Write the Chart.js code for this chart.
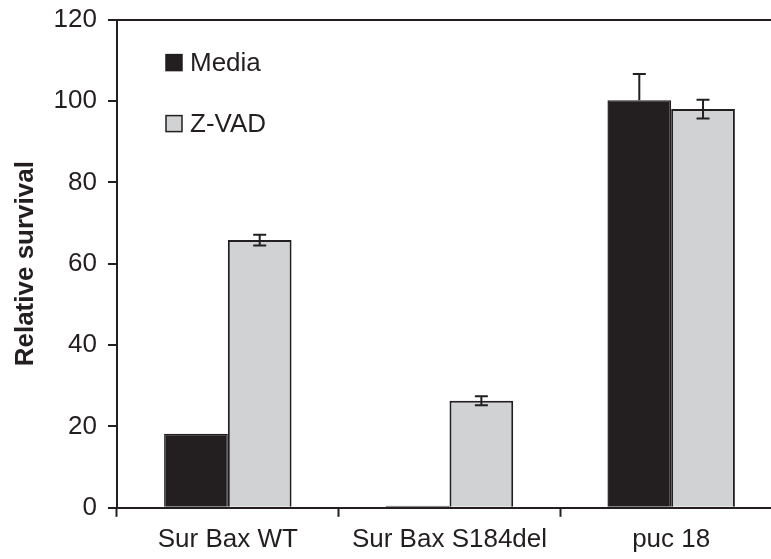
<!DOCTYPE html>
<html>
<head>
<meta charset="utf-8">
<script src="https://cdn.jsdelivr.net/npm/chart.js@4"></script>
<style>
  html, body { margin: 0; padding: 0; background: #fff; overflow: hidden; }
  #wrap { width: 782px; height: 566px; margin-top: -7px; }
</style>
</head>
<body>
<div id="wrap"><canvas id="myChart"></canvas></div>
<script>
// data
var categories = ['Sur Bax WT', 'Sur Bax S184del', 'puc 18'];
var mediaValues = [18.2, 0.5, 100.2];
var mediaErrors = [0, 0, 6.4];
var zvadValues = [65.8, 26.3, 98.0];
var zvadErrors = [1.3, 1.1, 2.3];
var yTicks = [0, 20, 40, 60, 80, 100, 120];

var ink = '#231f20';
var mediaColor = '#231f20';
var zvadColor = '#d1d2d4';
var fontFamily = '"Liberation Sans", Arial, sans-serif';

// draws the error bars from each dataset's errors array
var errorBars = {
  id: 'errorBars',
  afterDatasetsDraw: function(chart) {
    var c = chart.ctx;
    var y = chart.scales.y;
    c.save();
    c.strokeStyle = ink;
    c.lineWidth = 2;
    chart.data.datasets.forEach(function(ds, i) {
      var meta = chart.getDatasetMeta(i);
      meta.data.forEach(function(bar, j) {
        var err = ds.errors[j];
        if (!err) return;
        var v = ds.data[j];
        var x = bar.x;
        var top = y.getPixelForValue(v + err);
        var bottom = y.getPixelForValue(i === 0 ? v : v - err);
        c.beginPath();
        c.moveTo(x, top);
        c.lineTo(x, bottom);
        c.moveTo(x - 6.5, top);
        c.lineTo(x + 6.5, top);
        if (i !== 0) {
          c.moveTo(x - 6.5, bottom);
          c.lineTo(x + 6.5, bottom);
        }
        c.stroke();
      });
    });
    c.restore();
  }
};

// legend inside the plot, top left
var insideLegend = {
  id: 'insideLegend',
  afterDraw: function(chart) {
    var c = chart.ctx;
    var a = chart.chartArea;
    c.save();
    c.font = '26px ' + fontFamily;
    c.textBaseline = 'middle';
    chart.data.datasets.forEach(function(ds, i) {
      var bx = a.left + 49;
      var by = a.top + 35 + i * 61;
      c.fillStyle = ds.backgroundColor;
      c.fillRect(bx, by, 16, 16);
      c.strokeStyle = ink;
      c.lineWidth = 1.5;
      c.strokeRect(bx, by, 16, 16);
      c.fillStyle = ink;
      c.fillText(ds.label, bx + 24, by + 9);
    });
    c.restore();
  }
};

var ctx = document.getElementById('myChart').getContext('2d');

var myChart = new Chart(ctx, {
  type: 'bar',
  data: {
    labels: categories,
    datasets: [{
      label: 'Media',
      data: mediaValues,
      errors: mediaErrors,
      backgroundColor: mediaColor,
      borderColor: ink,
      borderWidth: 1.5
    }, {
      label: 'Z-VAD',
      data: zvadValues,
      errors: zvadErrors,
      backgroundColor: zvadColor,
      borderColor: ink,
      borderWidth: 2
    }]
  },
  options: {
    responsive: true,
    maintainAspectRatio: false,
    animation: false,
    layout: { autoPadding: false, padding: { top: 13.4, right: 0, bottom: -3, left: 0 } },
    datasets: {
      bar: { categoryPercentage: 0.575, barPercentage: 1 }
    },
    plugins: {
      legend: { display: false },
      tooltip: { enabled: false }
    },
    scales: {
      x: {
        offset: true,
        border: { color: ink, width: 2 },
        grid: {
          offset: true,
          drawOnChartArea: false,
          tickLength: 9,
          tickColor: ink,
          tickWidth: 2
        },
        ticks: {
          color: ink,
          padding: 7,
          font: { family: fontFamily, size: 26 }
        }
      },
      y: {
        min: 0,
        max: 120,
        afterFit: function(scale) { scale.width = 117; },
        afterBuildTicks: function(scale) {
          scale.ticks = yTicks.map(function(v) { return { value: v }; });
        },
        border: { color: ink, width: 2 },
        grid: {
          drawOnChartArea: true,
          color: function(c) { return c.tick && c.tick.value === 120 ? ink : 'rgba(0,0,0,0)'; },
          lineWidth: 2,
          tickLength: 9,
          tickColor: ink,
          tickWidth: 2
        },
        ticks: {
          color: ink,
          padding: 11,
          font: { family: fontFamily, size: 26 }
        },
        title: {
          display: true,
          text: 'Relative survival',
          color: ink,
          padding: { top: 10, bottom: 0 },
          font: { family: fontFamily, size: 26, weight: 'bold' }
        }
      }
    }
  },
  plugins: [errorBars, insideLegend]
});
</script>
</body>
</html>
